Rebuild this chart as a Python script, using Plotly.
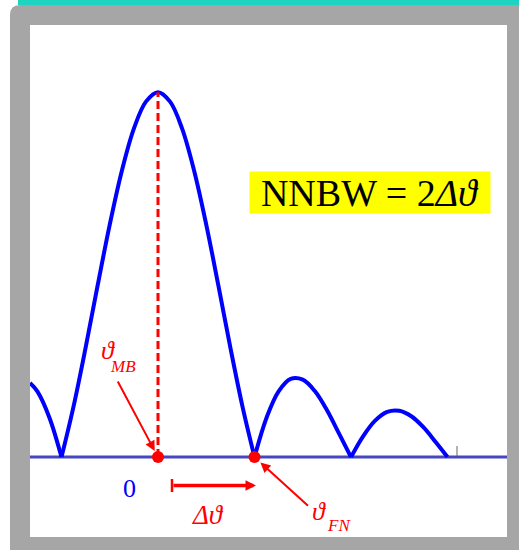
import plotly.graph_objects as go

# Figure geometry (pixels)
W, H = 519, 550
L, R, T, B = 30, 507, 25, 537          # inner white plotting panel

# Angle axis: 0 = main-beam direction, 1 = first null (delta theta)
X_RANGE = [-1.3264, 3.6166]
Y_RANGE = [-0.219, 1.184]

# Normalised radiation pattern, lobe by lobe
lobe_left_u = [-1.3264, -1.25, -1.125, -1.0]
lobe_left_v = [0.203, 0.180, 0.108, 0.0]

lobe_main_u = [-1.0, -0.875, -0.75, -0.625, -0.5, -0.375, -0.25, -0.125, 0.0,
               0.125, 0.25, 0.375, 0.5, 0.625, 0.75, 0.875, 1.0]
lobe_main_v = [0.0, 0.139, 0.300, 0.471, 0.637, 0.784, 0.900, 0.974, 1.0,
               0.974, 0.900, 0.784, 0.637, 0.471, 0.300, 0.139, 0.0]

lobe_side1_u = [1.0, 1.125, 1.25, 1.375, 1.5, 1.625, 1.75, 1.875, 2.0]
lobe_side1_v = [0.0, 0.108, 0.180, 0.214, 0.212, 0.181, 0.129, 0.065, 0.0]

lobe_side2_u = [2.0, 2.125, 2.25, 2.375, 2.5, 2.625, 2.75, 2.875, 3.0]
lobe_side2_v = [0.0, 0.057, 0.100, 0.124, 0.127, 0.112, 0.082, 0.042, 0.0]

# Marked directions: main beam and first null
marked_u = [0.0, 1.0]
marked_v = [0.0, 0.0]
peak_v = 1.0


def px(x):
    return (x - L) / (R - L)


def py(y):
    return (B - y) / (B - T)


fig = go.Figure()

for u, v in [(lobe_left_u, lobe_left_v), (lobe_main_u, lobe_main_v),
             (lobe_side1_u, lobe_side1_v), (lobe_side2_u, lobe_side2_v)]:
    fig.add_trace(go.Scatter(x=u, y=v, mode="lines",
                             line=dict(color="#0000ff", width=4, shape="spline"),
                             hoverinfo="skip", showlegend=False))

# dashed line from the main beam up to the peak
fig.add_trace(go.Scatter(x=[marked_u[0], marked_u[0]], y=[0, peak_v], mode="lines",
                         line=dict(color="#ff0000", width=3, dash="8px,4px"),
                         hoverinfo="skip", showlegend=False))

fig.add_trace(go.Scatter(x=marked_u, y=marked_v, mode="markers",
                         marker=dict(color="#ff0000", size=12),
                         hoverinfo="skip", showlegend=False))

# gray frame with rounded top-left corner and a hole for the panel
r = 10
ox0, oy0, ox1, oy1 = 10, 5, 519, 550
frame_path = (
    f"M{px(ox0)},{py(oy0 + r)} Q{px(ox0)},{py(oy0)} {px(ox0 + r)},{py(oy0)} "
    f"L{px(ox1)},{py(oy0)} L{px(ox1)},{py(oy1)} L{px(ox0)},{py(oy1)} Z "
    f"M{px(L)},{py(T)} L{px(L)},{py(B)} L{px(R)},{py(B)} L{px(R)},{py(T)} Z"
)

shapes = [
    dict(type="path", xref="paper", yref="paper", path=frame_path,
         fillcolor="#a6a6a6", line=dict(width=0), layer="above"),
    dict(type="rect", xref="paper", yref="paper",
         x0=px(18), x1=px(519), y0=py(0), y1=py(5),
         fillcolor="#1cd4bf", line=dict(width=0), layer="above"),
    # baseline
    dict(type="line", xref="paper", yref="y", x0=0, x1=1, y0=0, y1=0,
         line=dict(color="#4646be", width=3), layer="below"),
    # small end tick
    dict(type="line", xref="paper", yref="paper",
         x0=px(457), x1=px(457), y0=py(446), y1=py(456),
         line=dict(color="#666666", width=1)),
    # start bar of the delta-theta arrow
    dict(type="line", xref="paper", yref="paper",
         x0=px(172), x1=px(172), y0=py(479), y1=py(492),
         line=dict(color="#ff0000", width=2.5)),
]

SERIF = "Liberation Serif, Times New Roman, DejaVu Serif, serif"
RED = "#ff0000"

annotations = [
    # NNBW formula on yellow
    dict(xref="paper", yref="paper", x=px(370), y=py(192.5),
         text="NNBW = 2<i>Δϑ</i>", showarrow=False,
         font=dict(family=SERIF, size=38, color="#000000"),
         bgcolor="#ffff00", width=240, height=41, borderpad=0,
         xanchor="center", yanchor="middle"),
    # zero label
    dict(xref="paper", yref="paper", x=px(129.5), y=py(488),
         text="0", showarrow=False,
         font=dict(family=SERIF, size=26, color="#0000ff"),
         xanchor="center", yanchor="middle"),
    # theta_MB label
    dict(xref="paper", yref="paper", x=px(108), y=py(350),
         text="<i>ϑ</i>", showarrow=False,
         font=dict(family=SERIF, size=26, color=RED),
         xanchor="center", yanchor="middle"),
    dict(xref="paper", yref="paper", x=px(123), y=py(366),
         text="<i>MB</i>", showarrow=False,
         font=dict(family=SERIF, size=17, color=RED),
         xanchor="center", yanchor="middle"),
    # theta_FN label
    dict(xref="paper", yref="paper", x=px(319), y=py(511),
         text="<i>ϑ</i>", showarrow=False,
         font=dict(family=SERIF, size=26, color=RED),
         xanchor="center", yanchor="middle"),
    dict(xref="paper", yref="paper", x=px(339), y=py(525),
         text="<i>FN</i>", showarrow=False,
         font=dict(family=SERIF, size=17, color=RED),
         xanchor="center", yanchor="middle"),
    # delta theta label
    dict(xref="paper", yref="paper", x=px(208), y=py(515),
         text="<i>Δϑ</i>", showarrow=False,
         font=dict(family=SERIF, size=27, color=RED),
         xanchor="center", yanchor="middle"),
    # arrows
    dict(x=marked_u[0], y=0, xref="x", yref="y", text="", showarrow=True,
         ax=-41, ay=-77, arrowhead=2, arrowsize=1, arrowwidth=2,
         arrowcolor=RED, standoff=7),
    dict(x=marked_u[1], y=0, xref="x", yref="y", text="", showarrow=True,
         ax=55, ay=50, arrowhead=2, arrowsize=1, arrowwidth=2,
         arrowcolor=RED, standoff=8),
    dict(xref="paper", yref="paper", x=px(256), y=py(485.5), text="",
         showarrow=True, axref="pixel", ayref="pixel", ax=-84, ay=0,
         arrowhead=2, arrowsize=0.6, arrowwidth=3.5, arrowcolor=RED),
]

fig.update_layout(
    width=W, height=H,
    margin=dict(l=L, r=W - R, t=T, b=H - B, pad=0),
    paper_bgcolor="#ffffff", plot_bgcolor="#ffffff",
    showlegend=False,
    shapes=shapes, annotations=annotations,
    xaxis=dict(range=X_RANGE, visible=False, fixedrange=True),
    yaxis=dict(range=Y_RANGE, visible=False, fixedrange=True),
)

fig.write_html("out.html", config={"displayModeBar": False})
